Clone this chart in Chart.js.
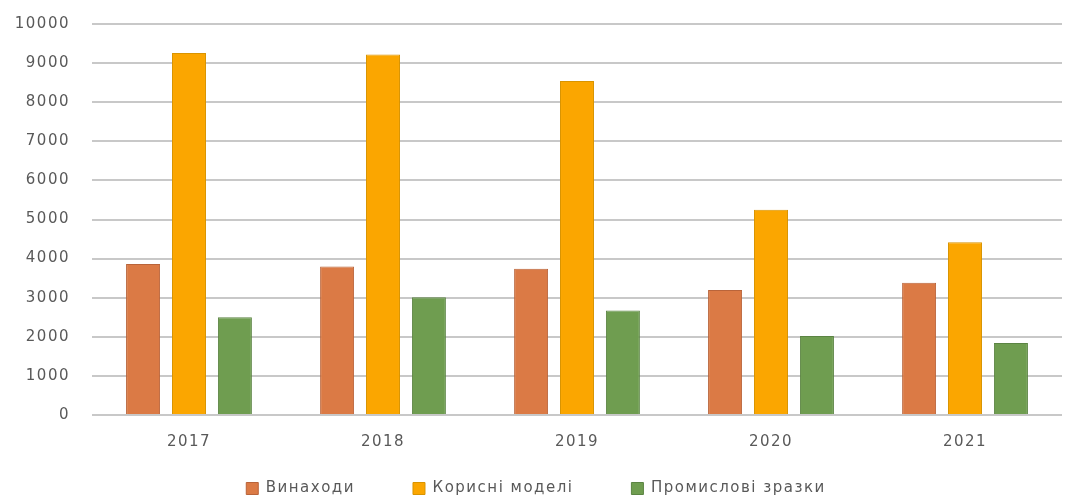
<!DOCTYPE html>
<html>
<head>
<meta charset="utf-8">
<script src="https://cdn.jsdelivr.net/npm/chart.js@4"></script>
<style>
  html, body { margin: 0; padding: 0; background: #fff; }
  #wrap { width: 1069px; height: 497px; }
</style>
</head>
<body>
<div id="wrap"><canvas id="patentChart" width="1069" height="497"></canvas></div>
<script>
var years = ['2017', '2018', '2019', '2020', '2021'];
var inventions = [3860, 3800, 3740, 3200, 3380];
var utilityModels = [9260, 9220, 8540, 5250, 4420];
var industrialDesigns = [2500, 3010, 2670, 2020, 1840];
var yTicks = [0, 1000, 2000, 3000, 4000, 5000, 6000, 7000, 8000, 9000, 10000];

var ctx = document.getElementById('patentChart').getContext('2d');
var font = { family: '"DejaVu Sans", sans-serif', size: 15 };

// the reference text is wide and loosely spaced; legend sits closer to the axis
var tweaks = {
    id: 'tweaks',
    beforeUpdate: function(chart) { chart.ctx.letterSpacing = '1.5px'; },
    afterLayout: function(chart) { chart.legend.top = 423; },
    beforeDraw: function(chart) { chart.ctx.letterSpacing = '1.5px'; }
};

var patentChart = new Chart(ctx, {
    type: 'bar',
    data: {
        labels: years,
        datasets: [{
            label: 'Винаходи',
            data: inventions,
            backgroundColor: '#DB7A45',
            borderColor: '#B9643A',
            borderWidth: 1
        }, {
            label: 'Корисні моделі',
            data: utilityModels,
            backgroundColor: '#FBA600',
            borderColor: '#D99400',
            borderWidth: 1
        }, {
            label: 'Промислові зразки',
            data: industrialDesigns,
            backgroundColor: '#6F9D50',
            borderColor: '#5B8443',
            borderWidth: 1
        }]
    },
    plugins: [tweaks],
    options: {
        responsive: false,
        animation: false,
        layout: { padding: { left: 10, right: 7, top: 24, bottom: -46 } },
        datasets: { bar: { categoryPercentage: 0.71, barPercentage: 0.74 } },
        plugins: {
            legend: {
                position: 'bottom',
                labels: { boxWidth: 12, boxHeight: 12, color: '#595959', font: font, padding: 58 }
            },
            tooltip: { enabled: false }
        },
        scales: {
            x: {
                afterFit: function(axis) { axis.height = 45; },
                grid: { display: false },
                border: { display: false },
                ticks: { color: '#595959', font: font, padding: 10 }
            },
            y: {
                min: 0,
                max: 10000,
                afterBuildTicks: function(axis) {
                    axis.ticks = yTicks.map(function(v) { return { value: v }; });
                },
                afterFit: function(axis) {
                    axis.width = 82;
                    axis.paddingTop = 0;
                    axis.paddingBottom = 0;
                },
                grid: { color: '#c8c8c8', lineWidth: 2, drawTicks: false },
                border: { display: false },
                ticks: {
                    color: '#595959',
                    font: font,
                    padding: 22,
                    callback: function(v) { return String(v); }
                }
            }
        }
    }
});
</script>
</body>
</html>
